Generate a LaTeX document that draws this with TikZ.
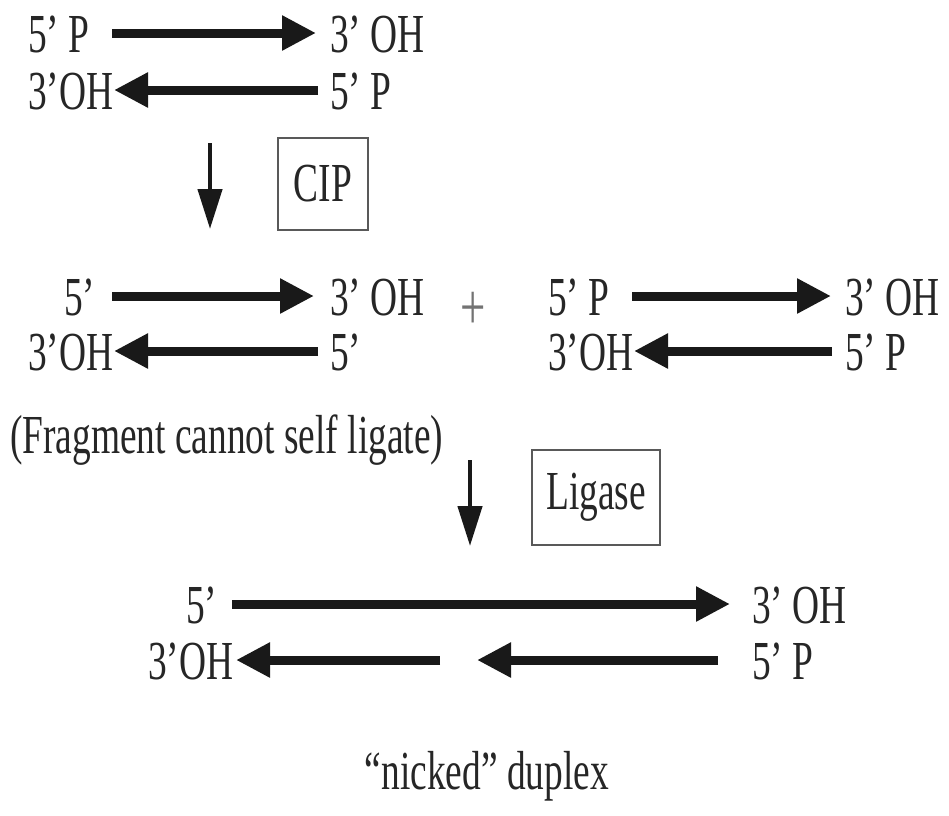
\documentclass[tikz,border=0pt]{standalone}
\usepackage{fontspec}
\setmainfont{Liberation Serif}[FakeStretch=0.68]
\usetikzlibrary{arrows.meta}
\begin{document}
\begin{tikzpicture}[x=1pt,y=-1pt,
    lbl/.style={inner sep=0pt,text=black!85,font=\fontsize{55}{60}\selectfont},
    strand/.style={line width=9pt,draw=black!90,-{Triangle[length=34pt,width=33pt]}},
    down/.style={line width=4.5pt,draw=black!90,-{Triangle[length=40pt,width=24pt]}},
    enzyme/.style={draw=black!65,line width=2pt,inner sep=0pt,text=black!85,
        font=\fontsize{55}{60}\selectfont}]
                \useasboundingbox (0,0) rectangle (949,815);

                % uncut duplex
                \node[lbl,anchor=west] (fiveA) at (28,34) {5' P};
                \node[lbl,anchor=west] (threeA) at (330,34) {3' OH};
                \node[lbl,anchor=west] (threeB) at (28,91) {3'OH};
                \node[lbl,anchor=west] (fiveB) at (330,91) {5' P};
                \coordinate (topAs) at (112,33);
                \coordinate (topAe) at (316,33);
                \coordinate (botAs) at (318,90);
                \coordinate (botAe) at (114,90);
                \draw[strand] (topAs) -- (topAe);
                \draw[strand] (botAs) -- (botAe);

                % CIP step
                \coordinate (downAs) at (210,143);
                \coordinate (downAe) at (210,229);
                \draw[down] (downAs) -- (downAe);
                \node[enzyme,minimum width=90pt,minimum height=92pt] (cip) at (323,184) {CIP};

                % dephosphorylated vector + insert
                \node[lbl,anchor=west] (fiveC) at (64,297) {5'};
                \node[lbl,anchor=west] (threeC) at (330,297) {3' OH};
                \node[lbl,anchor=west] (threeD) at (28,352) {3'OH};
                \node[lbl,anchor=west] (fiveD) at (330,352) {5'};
                \coordinate (topCs) at (112,296);
                \coordinate (topCe) at (314,296);
                \coordinate (botCs) at (318,351);
                \coordinate (botCe) at (114,351);
                \draw[strand] (topCs) -- (topCe);
                \draw[strand] (botCs) -- (botCe);

                \node[lbl,text=black!55,font=\fontsize{66}{70}\selectfont] (plus) at (473,311) {+};

                \node[lbl,anchor=west] (fiveE) at (548,297) {5' P};
                \node[lbl,anchor=west] (threeE) at (845,297) {3' OH};
                \node[lbl,anchor=west] (threeF) at (548,352) {3'OH};
                \node[lbl,anchor=west] (fiveF) at (845,352) {5' P};
                \coordinate (topEs) at (632,296);
                \coordinate (topEe) at (831,296);
                \coordinate (botEs) at (832,351);
                \coordinate (botEe) at (634,351);
                \draw[strand] (topEs) -- (topEe);
                \draw[strand] (botEs) -- (botEe);

                \node[lbl,anchor=west] (note) at (10,440) {(Fragment cannot self ligate)};

                % ligase step
                \coordinate (downBs) at (470,460);
                \coordinate (downBe) at (470,546);
                \draw[down] (downBs) -- (downBe);
                \node[enzyme,minimum width=128pt,minimum height=95pt] (ligase) at (596,497) {Ligase};

                % nicked product
                \node[lbl,anchor=west] (fiveG) at (186,605) {5'};
                \node[lbl,anchor=west] (threeG) at (752,605) {3' OH};
                \node[lbl,anchor=west] (threeH) at (148,661) {3'OH};
                \node[lbl,anchor=west] (fiveH) at (752,661) {5' P};
                \coordinate (topGs) at (232,604);
                \coordinate (topGe) at (730,604);
                \coordinate (botGs) at (440,660);
                \coordinate (botGe) at (236,660);
                \coordinate (botHs) at (718,660);
                \coordinate (botHe) at (477,660);
                \draw[strand] (topGs) -- (topGe);
                \draw[strand] (botGs) -- (botGe);
                \draw[strand] (botHs) -- (botHe);

                \node[lbl] (nicked) at (487,776) {``nicked'' duplex};
            \end{tikzpicture}
\end{document}
